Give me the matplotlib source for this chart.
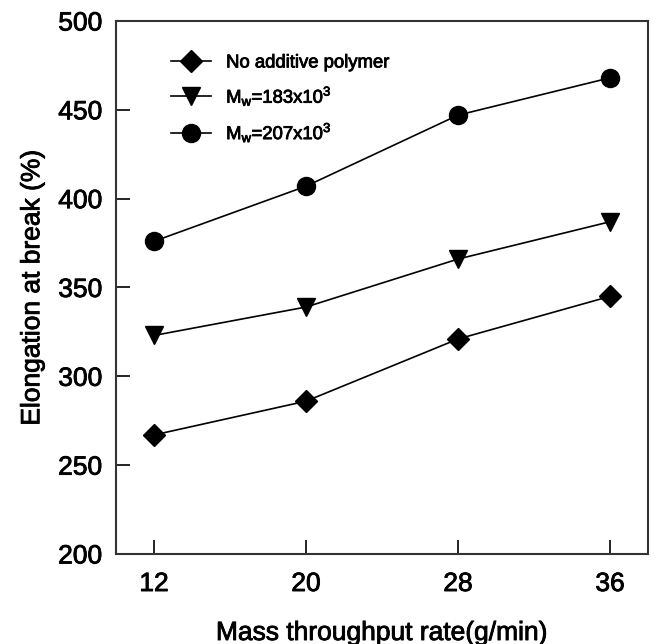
import matplotlib
matplotlib.use("Agg")
import matplotlib.pyplot as plt
import matplotlib.patheffects as pe

plt.rcParams['font.family'] = ['Liberation Sans', 'DejaVu Sans']

# data
rate = [12, 20, 28, 36]
no_additive = [267, 286, 321, 345]
mw_183 = [323, 339, 366, 387]
mw_207 = [376, 407, 447, 468]

fig = plt.figure(figsize=(6.54, 6.44), dpi=100)
ax = fig.add_axes([0.1774, 0.1398, 0.8134, 0.8276])

ax.plot(rate, no_additive, '-D', color='black', lw=1.2, ms=11, label='No additive polymer')
ax.plot(rate, mw_183, '-v', color='black', lw=1.2, ms=13, label=r'M$_\mathregular{w}$=183x10$^\mathregular{3}$')
ax.plot(rate, mw_207, '-o', color='black', lw=1.2, ms=13, label=r'M$_\mathregular{w}$=207x10$^\mathregular{3}$')

ax.set_xlim(10, 38)
ax.set_ylim(200, 500)
ax.set_xticks(rate)
ax.set_yticks([200, 250, 300, 350, 400, 450, 500])
ax.tick_params(direction='in', length=10, width=1.2, labelsize=19, pad=10)
ax.tick_params(axis='x', pad=13)
for s in ax.spines.values():
    s.set_linewidth(1.5)
    s.set_color('#333333')

ax.set_xlabel('Mass throughput rate(g/min)', fontsize=19, labelpad=18)
ax.set_ylabel('Elongation at break (%)', fontsize=19, labelpad=10)

leg = ax.legend(loc='upper left', frameon=False, fontsize=13.3, handlelength=2.2,
                borderaxespad=0.4, bbox_to_anchor=(0.075, 0.965), labelspacing=0.72)

# slightly heavier text like the scanned original
thick = [pe.withStroke(linewidth=0.6, foreground='black')]
for t in ax.get_xticklabels() + ax.get_yticklabels() + leg.get_texts():
    t.set_path_effects(thick)
ax.xaxis.label.set_path_effects(thick)
ax.yaxis.label.set_path_effects(thick)

fig.savefig('out.png', dpi=100)
